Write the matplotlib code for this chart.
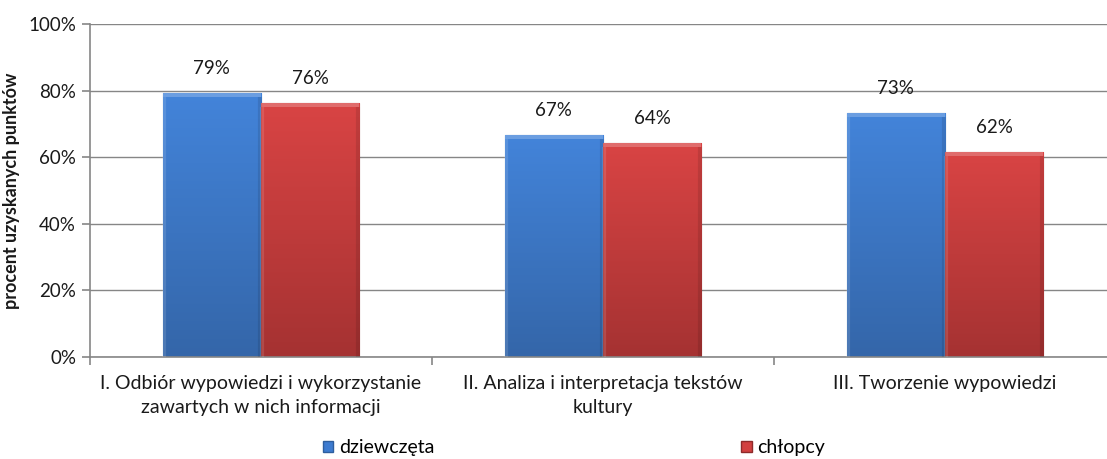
import matplotlib
matplotlib.use("Agg")
import matplotlib.pyplot as plt
import numpy as np
from matplotlib.ticker import PercentFormatter, FixedLocator
from matplotlib.patches import Patch

plt.rcParams['font.family'] = ['Lato', 'DejaVu Sans']

categories = ["I. Odbiór wypowiedzi i wykorzystanie\nzawartych w nich informacji",
              "II. Analiza i interpretacja tekstów\nkultury",
              "III. Tworzenie wypowiedzi"]
girls = [0.794, 0.668, 0.734]
boys = [0.764, 0.644, 0.617]
series_names = ["dziewczęta", "chłopcy"]
yticks = [0, 0.2, 0.4, 0.6, 0.8, 1.0]

fig = plt.figure(figsize=(11.07, 4.59), dpi=100)
ax = fig.add_axes([90/1107, 1-357/459, 1026/1107, 333/459])

x = np.arange(len(categories))
w = 0.287
grid_c = "#868686"
txt_c = "#1a1a1a"

def gradient_bars(bars, top_col, bot_col):
    top = np.array(matplotlib.colors.to_rgb(top_col))
    bot = np.array(matplotlib.colors.to_rgb(bot_col))
    t = np.linspace(0, 1, 256)[:, None]
    img = (bot[None, :] * (1 - t) + top[None, :] * t)[:, None, :]
    for b in bars:
        x0, y0 = b.get_x(), b.get_y()
        x1, y1 = x0 + b.get_width(), y0 + b.get_height()
        im = ax.imshow(img, extent=[x0, x1, y0, y1], origin='lower',
                       aspect='auto', zorder=2.5, interpolation='bicubic')
        im.set_clip_path(b)
        # bevel highlight at top
        ax.fill_between([x0, x1], y1 - 0.014, y1, color='white', alpha=0.22,
                        zorder=2.6, linewidth=0)
        ax.plot([x0 + 0.004, x0 + 0.004], [y0, y1 - 0.014], color='white', alpha=0.12, lw=3,
                zorder=2.6, solid_capstyle='butt')
        ax.plot([x1 - 0.004, x1 - 0.004], [y0, y1 - 0.014], color='black', alpha=0.10, lw=3,
                zorder=2.6, solid_capstyle='butt')

b1 = ax.bar(x - w/2, girls, w, color="#3D7BD0", edgecolor="#2E5E9E", linewidth=0.8, zorder=2)
b2 = ax.bar(x + w/2, boys, w, color="#D24040", edgecolor="#8E2A2A", linewidth=0.8, zorder=2)
gradient_bars(b1, "#4384DA", "#3466A9")
gradient_bars(b2, "#D94444", "#A53232")

for bars, vals in ((b1, girls), (b2, boys)):
    for b, v in zip(bars, vals):
        ax.annotate(f"{round(v*100):d}%", (b.get_x() + b.get_width()/2, b.get_height()),
                    xytext=(0, 17), textcoords='offset points', ha='center', va='center',
                    fontsize=13.5, color=txt_c)

ax.set_xlim(-0.5, 2.5)
ax.set_ylim(0, 1.0)
ax.yaxis.set_major_locator(FixedLocator(yticks))
ax.yaxis.set_major_formatter(PercentFormatter(1.0, decimals=0))
ax.yaxis.grid(True, color=grid_c, linewidth=1.0, zorder=0)
ax.set_axisbelow(True)

ax.set_xticks(x)
ax.set_xticklabels(categories, fontsize=14, color=txt_c, linespacing=1.5)
ax.tick_params(axis='x', which='major', length=0, pad=13)
ax.set_xticks([-0.5, 0.5, 1.5, 2.5], minor=True)
ax.tick_params(axis='x', which='minor', length=6, color=grid_c, width=1.2)
ax.tick_params(axis='y', length=6, color=grid_c, width=1.2, labelsize=13.5,
               labelcolor=txt_c, pad=4)

for s in ('top', 'right'):
    ax.spines[s].set_visible(False)
for s in ('left', 'bottom'):
    ax.spines[s].set_color(grid_c)
    ax.spines[s].set_linewidth(1.2)

ax.set_ylabel("procent uzyskanych punktów", fontsize=13, fontweight='bold', labelpad=6,
              color=txt_c)

handles = [Patch(facecolor="#3D7BD0", edgecolor="#2E5E9E"),
           Patch(facecolor="#D24040", edgecolor="#8E2A2A")]
fig.legend(handles, series_names, loc='center', bbox_to_anchor=(574/1107, 1-448/459),
           ncol=2, frameon=False, fontsize=14, handlelength=0.55, handleheight=0.55,
           handletextpad=0.3, columnspacing=15.75)

fig.savefig("out.png", dpi=100)
